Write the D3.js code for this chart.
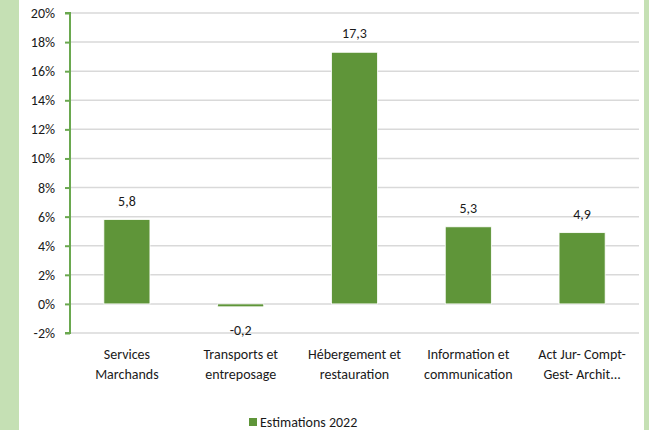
<!DOCTYPE html>
<html><head><meta charset="utf-8">
<script src="https://cdn.jsdelivr.net/npm/d3@7"></script>
<style>html,body{margin:0;padding:0;background:#fff;}svg{display:block;}</style>
</head><body>
<svg id="c" width="649" height="430"></svg>
<script>
const categories = [["Services","Marchands"],["Transports et","entreposage"],["Hébergement et","restauration"],["Information et","communication"],["Act Jur- Compt-","Gest- Archit..."]];
const values = [5.8, -0.2, 17.3, 5.3, 4.9];
const valueLabels = ["5,8","-0,2","17,3","5,3","4,9"];
const yTicks = [-2,0,2,4,6,8,10,12,14,16,18,20];
const seriesName = "Estimations 2022";

const svg = d3.select("#c");
const W = 649, H = 430;
const font = "Carlito, Lato, 'Liberation Sans', sans-serif";
const fs = 14;
svg.append("rect").attr("x",0).attr("y",0).attr("width",W).attr("height",H).attr("fill","#c5e0b4");
svg.append("rect").attr("x",19).attr("y",0).attr("width",625).attr("height",H).attr("fill","#ffffff");

const pLeft = 70, pRight = 639, pTop = 13, pBottom = 333;
const x = d3.scaleBand().domain(d3.range(values.length)).range([pLeft,pRight]).padding(0);
const y = d3.scaleLinear().domain([-2,20]).range([pBottom,pTop]);
const barW = x.bandwidth()*0.405;

// gridlines
svg.append("g").selectAll("line").data(yTicks).join("line")
  .attr("x1",pLeft).attr("x2",pRight)
  .attr("y1",d=>y(d)).attr("y2",d=>y(d))
  .attr("stroke","#d9d9d9").attr("stroke-width",1.5);

// bars
svg.append("g").selectAll("rect").data(values).join("rect")
  .attr("x",(d,i)=>x(i)+x.bandwidth()/2-barW/2)
  .attr("width",barW)
  .attr("y",d=>y(Math.max(0,d)))
  .attr("height",d=>Math.abs(y(d)-y(0)))
  .attr("fill","#5f9539").attr("stroke","#ffffff").attr("stroke-width",0.8);

// value labels
svg.append("g").selectAll("text").data(values).join("text")
  .attr("x",(d,i)=>x(i)+x.bandwidth()/2)
  .attr("y",d=> d>=0 ? y(d)-14 : y(d)+28)
  .attr("text-anchor","middle")
  .attr("font-family",font).attr("font-size",fs).attr("fill","#1a1a1a")
  .text((d,i)=>valueLabels[i]);

// y axis
const yAxis = d3.axisLeft(y).tickValues(yTicks).tickSize(5).tickPadding(10).tickFormat(d=>d+"%");
const ga = svg.append("g").attr("transform",`translate(${pLeft},0)`).call(yAxis);
ga.select(".domain").attr("stroke","#6aa84f").attr("stroke-width",2).attr("d",`M-5,${pTop}H0V${pBottom}H-5`);
ga.selectAll(".tick line").attr("stroke","#6aa84f").attr("stroke-width",2);
ga.selectAll(".tick text").attr("font-family",font).attr("font-size",fs).attr("fill","#1a1a1a");

// category labels
const gc = svg.append("g");
categories.forEach((c,i)=>{
  c.forEach((line,j)=>{
    gc.append("text").attr("x",x(i)+x.bandwidth()/2).attr("y",359+j*20)
      .attr("text-anchor","middle").attr("font-family",font).attr("font-size",fs).attr("fill","#1a1a1a")
      .text(line);
  });
});

// legend
svg.append("rect").attr("x",249).attr("y",418).attr("width",8).attr("height",8).attr("fill","#5f9539");
svg.append("text").attr("x",260).attr("y",427).attr("font-family",font).attr("font-size",fs).attr("fill","#1a1a1a").text(seriesName);
</script>
</body></html>
